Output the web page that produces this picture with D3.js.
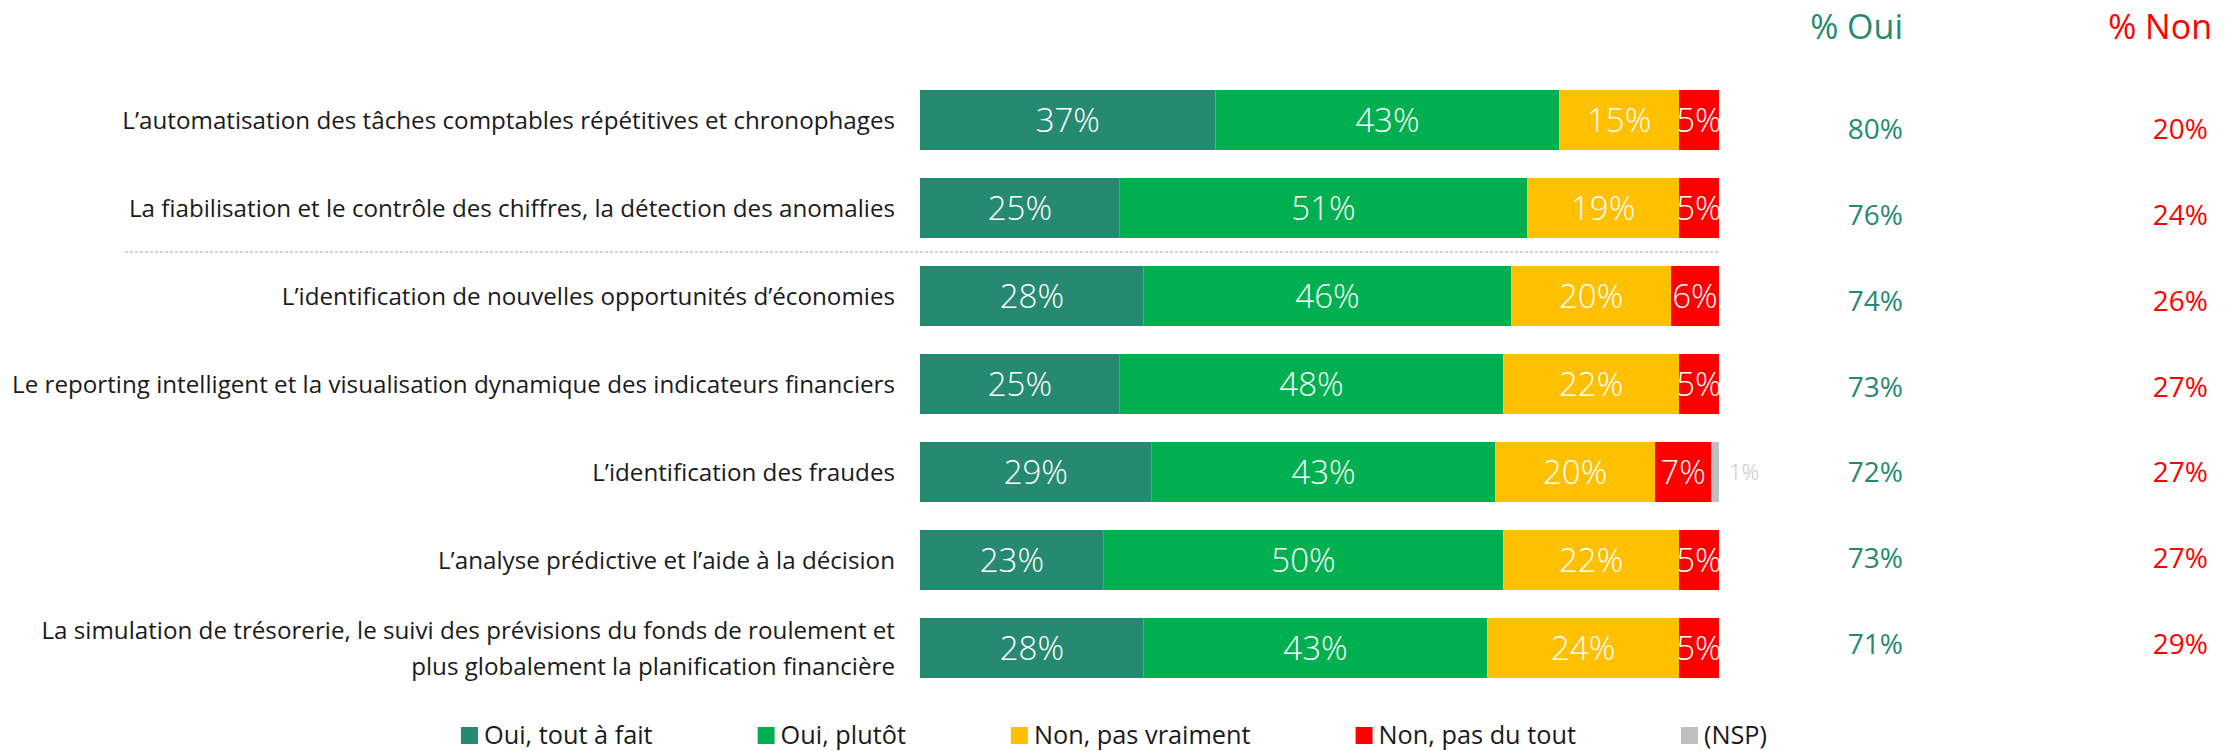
<!DOCTYPE html>
<html>
<head>
<meta charset="utf-8">
<script src="https://cdn.jsdelivr.net/npm/d3@7"></script>
<style>
  html, body { margin: 0; padding: 0; background: #fff; }
  svg { display: block; font-family: "Open Sans", sans-serif; }
</style>
</head>
<body>
<svg id="chart" width="2227" height="751"></svg>
<script>
const categories = [
    ["L’automatisation des tâches comptables répétitives et chronophages"],
    ["La fiabilisation et le contrôle des chiffres, la détection des anomalies"],
    ["L’identification de nouvelles opportunités d’économies"],
    ["Le reporting intelligent et la visualisation dynamique des indicateurs financiers"],
    ["L’identification des fraudes"],
    ["L’analyse prédictive et l’aide à la décision"],
    ["La simulation de trésorerie, le suivi des prévisions du fonds de roulement et", "plus globalement la planification financière"]
]
const seriesNames = ["Oui, tout à fait", "Oui, plutôt", "Non, pas vraiment", "Non, pas du tout", "(NSP)"]
const toutAFait = [37, 25, 28, 25, 29, 23, 28]
const plutot = [43, 51, 46, 48, 43, 50, 43]
const pasVraiment = [15, 19, 20, 22, 20, 22, 24]
const pasDuTout = [5, 5, 6, 5, 7, 5, 5]
const nsp = [0, 0, 0, 0, 1, 0, 0]
const totalOui = [80, 76, 74, 73, 72, 73, 71]
const totalNon = [20, 24, 26, 27, 27, 27, 29]

const colors = ["#268a72", "#00b050", "#ffc000", "#ff0000", "#bfbfbf"]

const svg = d3.select("#chart")
const keys = categories.map((c, i) => i)

const rows = keys.map(i => ({
    key: i,
    values: [toutAFait[i], plutot[i], pasVraiment[i], pasDuTout[i], nsp[i]]
}))

const x = d3.scaleLinear().domain([0, 100]).range([920, 1719])
const y = d3.scaleBand().domain(keys).range([76, 692]).paddingInner(0.318).paddingOuter(0.159)
const yTot = d3.scalePoint().domain(keys).range([129, 644])

// stacked segments
const stack = d3.stack().keys(d3.range(5)).value((d, k) => d.values[k])
const layers = stack(rows)

const g = svg.append("g")
layers.forEach((layer, k) => {
    const lg = g.append("g").attr("fill", colors[k])
    lg.selectAll("rect")
        .data(layer.filter(s => s[1] > s[0]))
        .enter()
        .append("rect")
        .attr("x", s => x(s[0]))
        .attr("y", s => y(s.data.key))
        .attr("width", s => x(s[1]) - x(s[0]))
        .attr("height", y.bandwidth())

    // values inside the bars (NSP goes next to the bar)
    lg.selectAll("text")
        .data(layer.filter(s => s[1] > s[0]))
        .enter()
        .append("text")
        .attr("x", s => k === 4 ? x(s[1]) + 10 : (x(s[0]) + x(s[1])) / 2)
        .attr("y", s => y(s.data.key) + y.bandwidth() / 2)
        .attr("dy", "0.36em")
        .attr("text-anchor", k === 4 ? "start" : "middle")
        .attr("font-size", k === 4 ? 22 : 33)
        .attr("font-weight", 300)
        .attr("fill", k === 4 ? "#c8c8c8" : "#fff")
        .text(s => (s[1] - s[0]) + "%")
})

// category labels
const labels = svg.append("g")
    .attr("font-size", 24.2)
    .attr("fill", "#1a1a1a")
    .attr("text-anchor", "end")
categories.forEach((lines, i) => {
    const t = labels.append("text")
        .attr("x", 895)
        .attr("y", y(i) + y.bandwidth() / 2)
    lines.forEach((line, j) => {
        t.append("tspan")
            .attr("x", 895)
            .attr("dy", j === 0 ? ((0.36 - (lines.length - 1) * 0.74) + "em") : "1.48em")
            .text(line)
    })
})

// separator between the first two rows and the rest
const sepY = (y(1) + y.bandwidth() + y(2)) / 2
svg.append("line")
    .attr("x1", 125).attr("x2", x(100))
    .attr("y1", sepY).attr("y2", sepY)
    .attr("stroke", "#a6a6a6")
    .attr("stroke-width", 1)
    .attr("stroke-dasharray", "3,2")

// totals columns
const colOui = 1903, colNon = 2212
svg.append("text").attr("x", colOui).attr("y", 39)
    .attr("text-anchor", "end").attr("font-size", 34).attr("fill", colors[0]).text("% Oui")
svg.append("text").attr("x", colNon).attr("y", 39)
    .attr("text-anchor", "end").attr("font-size", 34).attr("fill", "#ff0000").text("% Non")

svg.append("g").selectAll("text")
    .data(keys).enter().append("text")
    .attr("x", colOui).attr("y", i => yTot(i)).attr("dy", "0.36em")
    .attr("text-anchor", "end").attr("font-size", 28).attr("fill", colors[0])
    .text(i => totalOui[i] + "%")

svg.append("g").selectAll("text")
    .data(keys).enter().append("text")
    .attr("x", colNon - 4).attr("y", i => yTot(i)).attr("dy", "0.36em")
    .attr("text-anchor", "end").attr("font-size", 28).attr("fill", "#ff0000")
    .text(i => totalNon[i] + "%")

// legend, laid out from the measured text widths and centred
const legend = svg.append("g")
const items = seriesNames.map((name, k) => {
    const it = legend.append("g")
    it.append("rect").attr("width", 17).attr("height", 17).attr("y", -17).attr("fill", colors[k])
    const t = it.append("text").attr("x", 23).attr("y", 0)
        .attr("font-size", 25.3).attr("fill", "#1a1a1a").text(name)
    return {it, w: 23 + t.node().getComputedTextLength()}
})
const gap = 105
const total = d3.sum(items, d => d.w) + gap * (items.length - 1)
let cx = 1114 - total / 2
items.forEach(d => {
    d.it.attr("transform", `translate(${cx},744)`)
    cx += d.w + gap
})
</script>
</body>
</html>
